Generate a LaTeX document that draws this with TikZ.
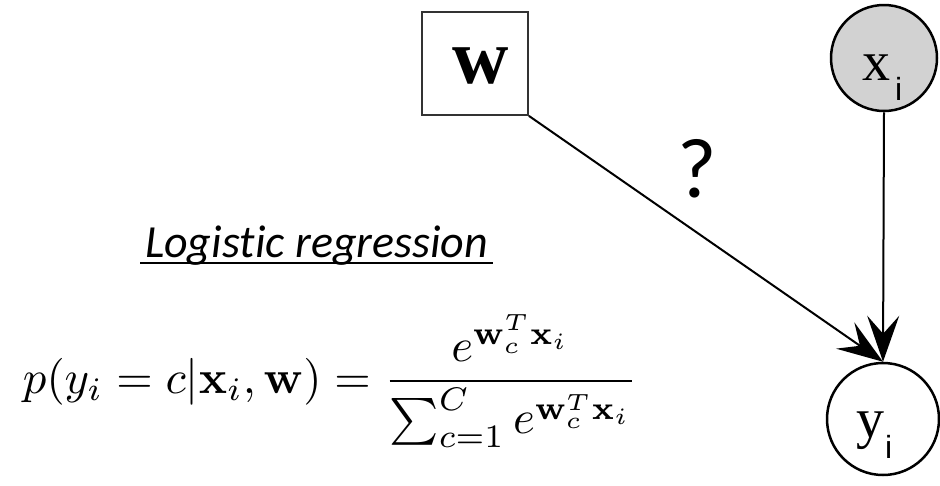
\documentclass[tikz,border=0pt]{standalone}
\usepackage[no-math]{fontspec}
\usepackage{amsmath}
\usepackage{graphicx}
\usetikzlibrary{arrows.meta}
\newfontfamily\carlito[Ligatures={NoCommon,NoRare,NoContextual}]{Carlito}
\newfontfamily\libserif{Liberation Serif}
\newfontfamily\libsans{Liberation Sans}
\tikzset{
  arr/.style={line width=2pt, -{Stealth[length=46pt, width=32pt, inset=18pt]}},
  nodecircle/.style={circle, draw=black, line width=2.5pt, inner sep=0pt},
  lbl/.style={inner sep=0pt, outer sep=0pt}
}
\begin{document}
\begin{tikzpicture}[x=1pt,y=-1pt]
\useasboundingbox (0,0) rectangle (940,485);
% parameter box
\node[draw=black!80, line width=1.8pt, minimum width=106pt, minimum height=103pt, inner sep=0pt] (w) at (475,63.5) {};
\node[lbl, anchor=base west] (wl) at (452,83) {\libserif\bfseries\fontsize{78}{78}\selectfont w};
% x_i
\node[nodecircle, fill=gray!35, minimum size=106pt] (x) at (884,58) {};
\node[lbl, anchor=base west] (xl) at (862,80) {\libserif\fontsize{56}{56}\selectfont x\kern5pt\raisebox{-20pt}{\libsans\fontsize{32}{32}\selectfont i}};
% y_i
\node[nodecircle, fill=white, minimum size=112pt] (y) at (883,419) {};
\node[lbl, anchor=base west] (yl) at (856,437) {\libserif\fontsize{56}{56}\selectfont y\kern1pt\raisebox{-21pt}{\libsans\fontsize{32}{32}\selectfont i}};
% edges
\draw[arr] (w.south east) -- (y.north);
\draw[arr] (x.south) -- (y.north);
% question mark
\node[lbl, anchor=base] (q) at (697,197) {\carlito\fontsize{85}{85}\selectfont ?};
% title
\node[lbl, anchor=base west] (lr) at (145,257) {\carlito\itshape\fontsize{46}{46}\selectfont Logis\kern0pt t\kern0pt ic regression};
\draw[line width=2.5pt] ([xshift=-5pt,yshift=-6pt]lr.base west) -- ([xshift=5pt,yshift=-6pt]lr.base east);
% formula
\node[lbl, anchor=base west] (f) at (23,393) {\resizebox{614pt}{!}{$\displaystyle p(y_i = c|\mathbf{x}_i, \mathbf{w}) = \frac{e^{\mathbf{w}_c^T\mathbf{x}_i}}{\sum_{c=1}^C e^{\mathbf{w}_c^T\mathbf{x}_i}}$}};
\end{tikzpicture}
\end{document}
